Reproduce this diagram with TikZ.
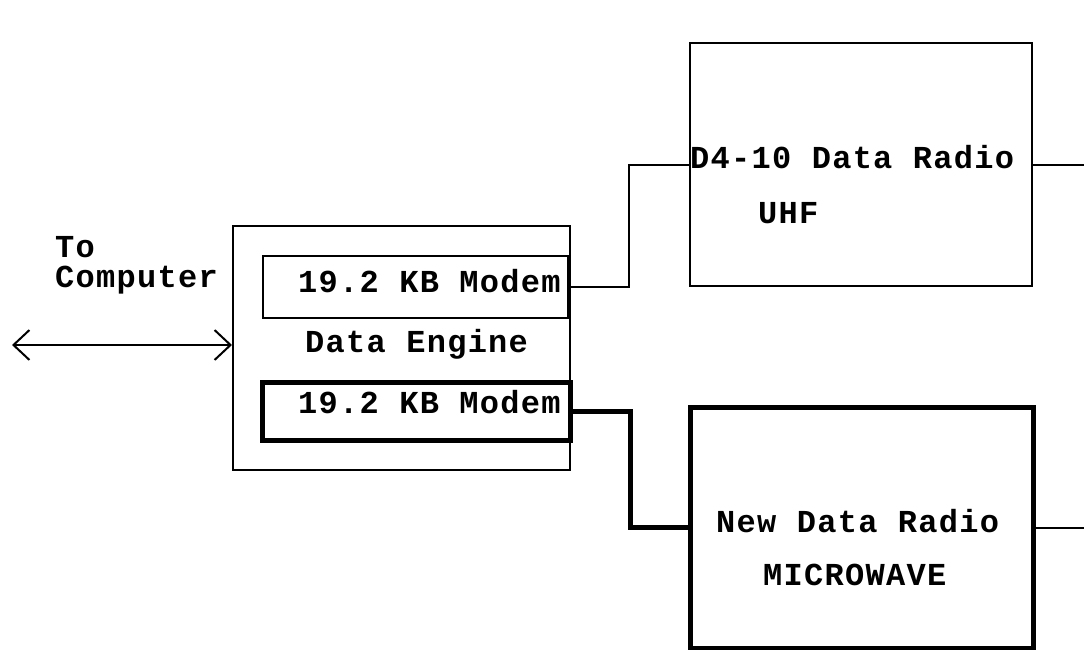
\documentclass[tikz,border=0pt]{standalone}
\usepackage{fontspec}
\usetikzlibrary{arrows.meta,calc}
\newfontfamily\radiomono[LetterSpace=4]{Liberation Mono}
\newcommand{\radiofont}{\radiomono\bfseries\fontsize{32}{30}\selectfont}
\tikzset{
    box/.style={draw,rectangle,line width=2pt,inner sep=0pt},
    heavy/.style={line width=5pt},
    txt/.style={inner sep=0pt,anchor=base west,font=\radiofont},
    wire/.style={line width=2pt}
}
\begin{document}
\begin{tikzpicture}[x=1pt,y=-1pt]
    \useasboundingbox (0,0) rectangle (1084,650);
    % data engine with its two modems
    \node[box,minimum width=337pt,minimum height=244pt] (engine) at (401.5,348) {};
    \node[box,minimum width=305pt,minimum height=62pt] (modemA) at (415.5,287) {};
    \node[box,heavy,minimum width=308pt,minimum height=58pt] (modemB) at (416,411) {};
    \node[txt] (modemAname) at (298,292) {19.2 KB Modem};
    \node[txt] (modemBname) at (298,413) {19.2 KB Modem};
    \node[txt] (engname) at (305,352) {Data Engine};
    % radios
    \node[box,minimum width=342pt,minimum height=243pt] (uhf) at (861,164.5) {};
    \node[box,heavy,minimum width=343pt,minimum height=241pt] (micro) at (861.5,527.5) {};
    \node[txt] (uhfname) at (690,168) {D4-10 Data Radio};
    \node[txt] (uhfband) at (758,223) {UHF};
    \node[txt] (microname) at (716,532) {New Data Radio};
    \node[txt] (microband) at (763,585) {MICROWAVE};
    % computer side
    \node[txt,align=left] (tocomp) at (55,287) {To\\Computer};
    \coordinate (pc) at (12,345);
    \coordinate (edge) at (1084,0);
    \draw[wire,{Straight Barb[length=16pt,width=30pt]}-{Straight Barb[length=16pt,width=30pt]}] (pc) -- (pc -| engine.west);
    % links
    \draw[wire] (modemA.east) -| ($(modemA.east)!.5!(uhf.west)$) |- (uhf.west);
    \draw[wire,heavy] (modemB.east) -| ($(modemB.east)!.5!(micro.west)$) |- (micro.west);
    \draw[wire] (uhf.east) -- (uhf.east -| edge);
    \draw[wire] (micro.east) -- (micro.east -| edge);
    % \draw[red] (engine.north west) rectangle (engine.south east);
\end{tikzpicture}
\end{document}
